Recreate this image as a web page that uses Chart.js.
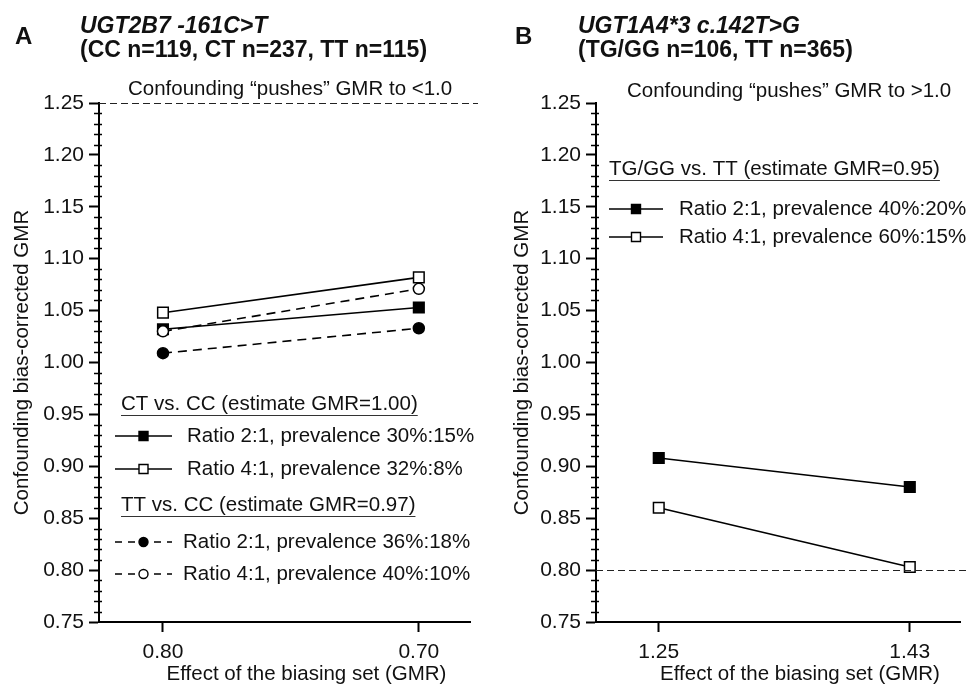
<!DOCTYPE html>
<html>
<head>
<meta charset="utf-8">
<script src="https://cdn.jsdelivr.net/npm/chart.js@4/dist/chart.umd.min.js"></script>
<style>
  html, body { margin: 0; padding: 0; background: #fff; }
  #wrap { position: relative; width: 969px; height: 685px; overflow: hidden; }
  .panel { position: absolute; top: 0; height: 685px; }
</style>
</head>
<body>
<div id="wrap">
  <div class="panel" style="left:0;width:484px"><canvas id="chartA"></canvas></div>
  <div class="panel" style="left:484px;width:485px"><canvas id="chartB"></canvas></div>
</div>
<script>
// panel A - UGT2B7 -161C>T
const xLabelsA = ['0.80', '0.70'];
const ctRatio21 = [1.032, 1.053];
const ctRatio41 = [1.048, 1.082];
const ttRatio21 = [1.009, 1.033];
const ttRatio41 = [1.030, 1.071];
const refLineA = 1.25;

// panel B - UGT1A4*3 c.142T>G
const xLabelsB = ['1.25', '1.43'];
const tgRatio21 = [0.908, 0.880];
const tgRatio41 = [0.860, 0.803];
const refLineB = 0.80;

// y axis
const yMin = 0.75, yMax = 1.25, yMajor = 0.05, yMinor = 0.01;

const FONT = 'Liberation Sans, Arial, Helvetica, sans-serif';
const INK = '#111';

const styles = {
  fillSq:  { point: 'rect',   filled: true,  dash: [] },
  openSq:  { point: 'rect',   filled: false, dash: [] },
  fillCir: { point: 'circle', filled: true,  dash: [9, 6] },
  openCir: { point: 'circle', filled: false, dash: [9, 6] }
};

function pts(arr) {
  return arr.map((v, i) => ({ x: i, y: v }));
}

function dataset(values, st, order) {
  return {
    data: pts(values),
    order: order,
    borderColor: '#000',
    borderWidth: 1.6,
    borderDash: st.dash,
    pointStyle: st.point,
    pointRadius: st.point === 'rect' ? 7.5 : 5.5,
    pointBorderWidth: 1.5,
    pointBorderColor: '#000',
    pointBackgroundColor: st.filled ? '#000' : '#fff',
    fill: false,
    tension: 0
  };
}

function isMajor(v) {
  return Math.round(v * 100) % Math.round(yMajor * 100) === 0;
}

function drawMarker(ctx, st, x, y, size) {
  ctx.save();
  ctx.lineWidth = 1.4;
  ctx.strokeStyle = '#000';
  ctx.fillStyle = st.filled ? '#000' : '#fff';
  ctx.setLineDash([]);
  ctx.beginPath();
  if (st.point === 'rect') {
    ctx.rect(x - size / 2, y - size / 2, size, size);
  } else {
    ctx.arc(x, y, size / 2, 0, Math.PI * 2);
  }
  ctx.fill();
  ctx.stroke();
  ctx.restore();
}

// extra drawing: titles, note, reference line, legend, minor ticks, x title
function decor(cfg) {
  return {
    id: 'decor',
    afterDraw(chart) {
      const ctx = chart.ctx;
      const area = chart.chartArea;
      const ys = chart.scales.y;
      ctx.save();
      ctx.fillStyle = INK;
      ctx.textBaseline = 'alphabetic';
      ctx.textAlign = 'left';

      // panel letter + headings
      ctx.font = 'bold 24px ' + FONT;
      ctx.fillText(cfg.letter, cfg.letterX, 44);
      ctx.font = 'italic bold 23px ' + FONT;
      ctx.fillText(cfg.title1, cfg.titleX, 33);
      ctx.font = 'bold 23px ' + FONT;
      ctx.fillText(cfg.title2, cfg.titleX, 57);

      // note above plot
      ctx.font = '20.5px ' + FONT;
      ctx.fillText(cfg.note, cfg.noteX, cfg.noteY);

      // x axis title
      ctx.textAlign = 'center';
      ctx.textBaseline = 'middle';
      ctx.fillText('Effect of the biasing set (GMR)', (area.left + area.right) / 2 + 22, 674);

      // reference dashed line
      const ry = Math.round(ys.getPixelForValue(cfg.refLine)) + 0.5;
      ctx.strokeStyle = '#222';
      ctx.lineWidth = 1.2;
      ctx.setLineDash([7, 4]);
      ctx.beginPath();
      ctx.moveTo(area.left, ry);
      ctx.lineTo(cfg.refEnd, ry);
      ctx.stroke();
      ctx.setLineDash([]);

      // minor ticks on y axis
      ctx.strokeStyle = '#000';
      ctx.lineWidth = 1.5;
      ys.ticks.forEach(t => {
        if (isMajor(t.value)) return;
        const py = Math.round(ys.getPixelForValue(t.value)) + 0.5;
        ctx.beginPath();
        ctx.moveTo(area.left - 5, py);
        ctx.lineTo(area.left + 3, py);
        ctx.stroke();
      });

      // legend
      ctx.textAlign = 'left';
      ctx.textBaseline = 'middle';
      ctx.font = '20.5px ' + FONT;
      cfg.legend.forEach(g => {
        ctx.fillStyle = INK;
        ctx.fillText(g.header, cfg.headerX, g.y);
        const w = ctx.measureText(g.header).width;
        ctx.strokeStyle = '#333';
        ctx.lineWidth = 1.2;
        ctx.beginPath();
        ctx.moveTo(cfg.headerX, g.y + 11.5);
        ctx.lineTo(cfg.headerX + w, g.y + 11.5);
        ctx.stroke();
        g.rows.forEach(r => {
          ctx.strokeStyle = '#000';
          ctx.lineWidth = 1.6;
          ctx.setLineDash(r.style.dash.length ? [7, 6] : []);
          ctx.beginPath();
          ctx.moveTo(cfg.sampleX0, r.y);
          ctx.lineTo(cfg.sampleX1, r.y);
          ctx.stroke();
          ctx.setLineDash([]);
          drawMarker(ctx, r.style, (cfg.sampleX0 + cfg.sampleX1) / 2, r.y, 9);
          ctx.fillStyle = INK;
          ctx.fillText(r.label, r.style.dash.length ? cfg.textX - 4 : cfg.textX, r.y);
        });
      });
      ctx.restore();
    }
  };
}

function makeChart(id, labels, datasets, opts) {
  return new Chart(document.getElementById(id), {
    type: 'line',
    data: { datasets: datasets },
    options: {
      responsive: true,
      maintainAspectRatio: false,
      animation: false,
      events: [],
      layout: { padding: { left: 0, top: 103, right: opts.padRight, bottom: 0 } },
      plugins: { legend: { display: false }, tooltip: { enabled: false } },
      scales: {
        x: {
          type: 'linear',
          min: -0.25,
          max: 1.2,
          afterBuildTicks: s => { s.ticks = labels.map((_, i) => ({ value: i })); },
          afterFit: s => { s.height = 63; },
          ticks: {
            autoSkip: false,
            maxRotation: 0,
            padding: 8,
            color: INK,
            font: { family: FONT, size: 21 },
            callback: (v, i) => labels[i]
          },
          grid: { drawOnChartArea: false, drawTicks: true, tickLength: 10, tickWidth: 2, tickColor: '#000' },
          border: { display: true, color: '#000', width: 2 }
        },
        y: {
          type: 'linear',
          min: yMin,
          max: yMax,
          afterFit: s => { s.width = opts.axisWidth; },
          ticks: {
            stepSize: yMinor,
            autoSkip: false,
            padding: 5,
            color: INK,
            font: { family: FONT, size: 21 },
            callback: v => isMajor(v) ? v.toFixed(2) : ''
          },
          grid: {
            drawOnChartArea: false,
            tickLength: 10,
            tickWidth: 2,
            tickColor: c => isMajor(c.tick.value) ? '#000' : 'rgba(0,0,0,0)'
          },
          border: { display: true, color: '#000', width: 2 },
          title: {
            display: true,
            text: 'Confounding bias-corrected GMR',
            color: INK,
            font: { family: FONT, size: 20.5 },
            padding: { top: opts.titlePad, bottom: 0 }
          }
        }
      }
    },
    plugins: [decor(opts.decor)]
  });
}

makeChart('chartA', xLabelsA, [
  dataset(ttRatio41, styles.openCir, 0),
  dataset(ctRatio41, styles.openSq, 1),
  dataset(ctRatio21, styles.fillSq, 2),
  dataset(ttRatio21, styles.fillCir, 3)
], {
  padRight: 14,
  axisWidth: 99,
  titlePad: 10,
  decor: {
    letter: 'A', letterX: 15, titleX: 80,
    title1: 'UGT2B7 -161C>T',
    title2: '(CC n=119, CT n=237, TT n=115)',
    note: 'Confounding \u201cpushes\u201d GMR to <1.0', noteX: 128, noteY: 95,
    refLine: refLineA, refEnd: 478,
    headerX: 121, sampleX0: 115, sampleX1: 172, textX: 187,
    legend: [
      { header: 'CT vs. CC (estimate GMR=1.00)', y: 404, rows: [
        { label: 'Ratio 2:1, prevalence 30%:15%', style: styles.fillSq, y: 436 },
        { label: 'Ratio 4:1, prevalence 32%:8%', style: styles.openSq, y: 469 }
      ] },
      { header: 'TT vs. CC (estimate GMR=0.97)', y: 505, rows: [
        { label: 'Ratio 2:1, prevalence 36%:18%', style: styles.fillCir, y: 542 },
        { label: 'Ratio 4:1, prevalence 40%:10%', style: styles.openCir, y: 574 }
      ] }
    ]
  }
});

makeChart('chartB', xLabelsB, [
  dataset(tgRatio21, styles.fillSq, 0),
  dataset(tgRatio41, styles.openSq, 1)
], {
  padRight: 0,
  axisWidth: 112,
  titlePad: 26,
  decor: {
    letter: 'B', letterX: 31, titleX: 94,
    title1: 'UGT1A4*3 c.142T>G',
    title2: '(TG/GG n=106, TT n=365)',
    note: 'Confounding \u201cpushes\u201d GMR to >1.0', noteX: 143, noteY: 97,
    refLine: refLineB, refEnd: 485,
    headerX: 125, sampleX0: 125, sampleX1: 179, textX: 195,
    legend: [
      { header: 'TG/GG vs. TT (estimate GMR=0.95)', y: 169, rows: [
        { label: 'Ratio 2:1, prevalence 40%:20%', style: styles.fillSq, y: 209 },
        { label: 'Ratio 4:1, prevalence 60%:15%', style: styles.openSq, y: 237 }
      ] }
    ]
  }
});
</script>
</body>
</html>
